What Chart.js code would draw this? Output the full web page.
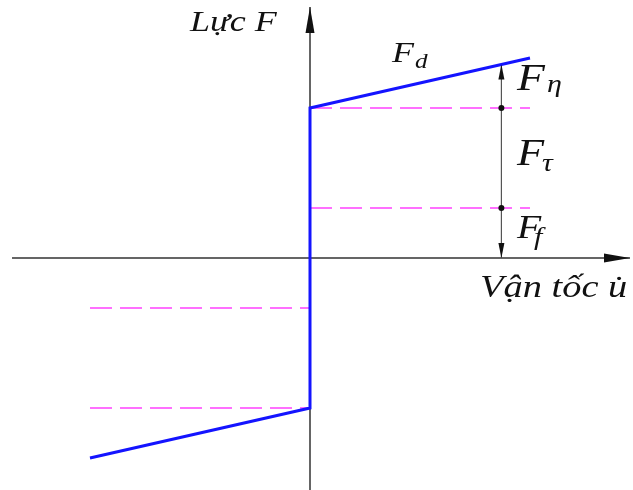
<!DOCTYPE html>
<html>
<head>
<meta charset="utf-8">
<script src="https://cdn.jsdelivr.net/npm/chart.js@4.4.1/dist/chart.umd.min.js"></script>
<style>
  body { margin: 0; background: #fff; }
  #chart { display: block; }
</style>
</head>
<body>
<canvas id="chart" width="633" height="490"></canvas>
<script>
// characteristic F(u): Coulomb friction + yield force + viscous part
const velocity = [-1, 0, 0, 1];
const force = [-4, -3, 3, 4];
// dashed levels: F_f and F_f + F_tau
const levelsPos = [1, 3];
const levelsNeg = [-1, -3];
// where the dimension line is drawn
const dimU = 0.87;
const dimTop = 3.87;

// axis extents
const xAxisRange = [-1.3545, 1.4545];
const yAxisRange = [-4.64, 5.02];

const curve = velocity.map((u, i) => ({x: u, y: force[i]}));

const dashed = [];
levelsPos.forEach(l => { dashed.push({x: 0, y: l}, {x: 1, y: l}, {x: null, y: null}); });
levelsNeg.forEach(l => { dashed.push({x: -1, y: l}, {x: 0, y: l}, {x: null, y: null}); });

const labels = [
  {text: 'Lực F', x: -0.545, y: 4.54, size: 30},
  {text: 'F', sub: 'd', x: 0.373, y: 3.92, size: 30, subSize: 21, subDx: 23, subDy: 6},
  {text: 'F', sub: 'η', x: 0.941, y: 3.36, size: 38, subSize: 25, subDx: 30, subDy: 2},
  {text: 'F', sub: 'τ', x: 0.941, y: 1.86, size: 37, subSize: 25, subDx: 25, subDy: 6},
  {text: 'F', sub: 'f', x: 0.941, y: 0.40, size: 33, subSize: 25, subDx: 17, subDy: 7},
  {text: 'Vận tốc u̇', x: 0.773, y: -0.78, size: 32}
];

function arrow(ctx, x, y, dx, dy, len, hw) {
  ctx.beginPath();
  ctx.moveTo(x, y);
  ctx.lineTo(x - dx * len - dy * hw, y - dy * len + dx * hw);
  ctx.lineTo(x - dx * len + dy * hw, y - dy * len - dx * hw);
  ctx.closePath();
  ctx.fill();
}

const decorations = {
  id: 'decorations',
  afterDatasetsDraw(chart) {
    const ctx = chart.ctx;
    const xs = chart.scales.x, ys = chart.scales.y;
    ctx.save();
    ctx.fillStyle = '#111';
    // axis arrows
    arrow(ctx, xs.getPixelForValue(xAxisRange[1]), ys.getPixelForValue(0), 1, 0, 26, 4.5);
    arrow(ctx, xs.getPixelForValue(0), ys.getPixelForValue(yAxisRange[1]), 0, -1, 26, 4.5);
    // dimension arrows
    arrow(ctx, xs.getPixelForValue(dimU), ys.getPixelForValue(dimTop), 0, -1, 15, 3);
    arrow(ctx, xs.getPixelForValue(dimU), ys.getPixelForValue(0), 0, 1, 15, 3);
    // labels, a bit stretched like the scanned figure
    ctx.fillStyle = '#111';
    ctx.textBaseline = 'alphabetic';
    labels.forEach(l => {
      const px = xs.getPixelForValue(l.x), py = ys.getPixelForValue(l.y);
      ctx.save();
      ctx.translate(px, py);
      ctx.scale(1.2, 1);
      ctx.font = 'italic ' + l.size + 'px "Liberation Serif", "DejaVu Serif", serif';
      ctx.fillText(l.text, 0, 0);
      if (l.sub) {
        ctx.font = 'italic ' + l.subSize + 'px "Liberation Serif", "DejaVu Serif", serif';
        ctx.fillText(l.sub, l.subDx / 1.2, l.subDy);
      }
      ctx.restore();
    });
    ctx.restore();
  }
};

new Chart(document.getElementById('chart'), {
  type: 'scatter',
  data: {
    datasets: [
      {
        data: curve, showLine: true, borderColor: '#1414ff', borderWidth: 3,
        pointRadius: 0, order: 0
      },
      {
        data: [{x: dimU, y: levelsPos[0]}, {x: dimU, y: levelsPos[1]}],
        showLine: false, pointRadius: 3, pointBackgroundColor: '#111',
        pointBorderWidth: 0, order: 1
      },
      {
        data: dashed, showLine: true, spanGaps: false, borderColor: '#ff70ff',
        borderWidth: 2, borderDash: [22, 8], pointRadius: 0, order: 2
      },
      {
        data: [{x: dimU, y: 0}, {x: dimU, y: dimTop}], showLine: true,
        borderColor: '#555', borderWidth: 1.2, pointRadius: 0, order: 3
      },
      {
        data: [{x: xAxisRange[0], y: 0}, {x: xAxisRange[1], y: 0}, {x: null, y: null},
               {x: 0, y: yAxisRange[0]}, {x: 0, y: yAxisRange[1]}],
        showLine: true, spanGaps: false, borderColor: '#333', borderWidth: 1.5,
        pointRadius: 0, order: 4
      }
    ]
  },
  options: {
    responsive: false,
    animation: false,
    layout: {padding: 0, autoPadding: false},
    plugins: {legend: {display: false}, tooltip: {enabled: false}},
    scales: {
      x: {type: 'linear', display: false, min: -1.40909, max: 1.46818},
      y: {type: 'linear', display: false, min: -4.64, max: 5.16}
    },
    elements: {line: {tension: 0}}
  },
  plugins: [decorations]
});
</script>
</body>
</html>
